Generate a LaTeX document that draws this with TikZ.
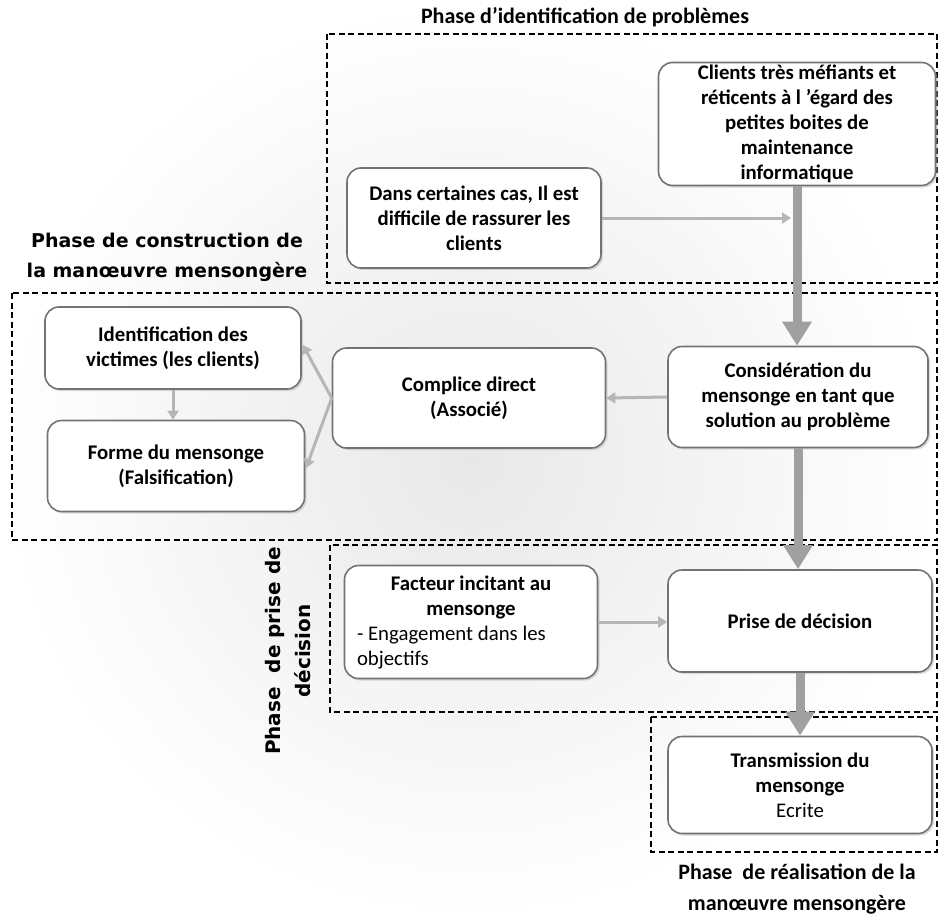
\documentclass[tikz,border=0pt]{standalone}
\usepackage{fontspec}
\setmainfont{Carlito}
\newfontfamily\titrefont{DejaVu Sans}
\usetikzlibrary{arrows.meta,positioning,shadows}
\definecolor{bxedge}{RGB}{115,115,115}
\definecolor{bxthick}{RGB}{160,160,160}
\definecolor{bxthin}{RGB}{182,182,182}
\tikzset{
  boite/.style={
    draw=bxedge, line width=1.6pt, rounded corners=14pt, fill=white,
    align=center, inner xsep=6pt, inner ysep=0pt,
    font=\fontsize{20.8}{25}\selectfont\bfseries,
    drop shadow={shadow xshift=2pt, shadow yshift=-2pt, fill=black!30, opacity=.45}
  },
  grp/.style={draw=black, line width=1.4pt, dash pattern=on 6pt off 3.5pt},
  arr/.style={-{Triangle[length=9pt,width=11pt]}, draw=bxthin, line width=3pt},
  gros/.style={-{Triangle[length=24pt,width=28pt]}, draw=bxthick, line width=9pt},
  titre/.style={font=\fontsize{22}{31}\selectfont\bfseries, align=center},
  titreb/.style={font=\titrefont\fontsize{19}{30}\selectfont\bfseries, align=center}
}
\begin{document}
\begin{tikzpicture}[x=1pt, y=-1pt]
  \useasboundingbox (0,0) rectangle (941,920);
  \shade[inner color=black!9, outer color=white] (0,0) rectangle (941,920);
  % phases
  \draw[grp] (327,34) rectangle (937,283);
  \draw[grp] (12,293) rectangle (937,540);
  \draw[grp] (330,545) rectangle (937,712);
  \draw[grp] (651,717) rectangle (937,852);
  \node[titre] (t1) at (585,17) {Phase d’identification de problèmes};
  \node[titreb] (t2) at (167,257) {Phase de construction de\\la manœuvre mensongère};
  \node[titreb, font=\titrefont\fontsize{20}{30}\selectfont\bfseries, rotate=90] (t3) at (288,651)
    {Phase \ de prise de\\décision};
  \node[titre] (t4) at (797,889) {Phase \ de réalisation de la\\manœuvre mensongère};
  % boxes
  \node[boite, minimum width=277pt, minimum height=123pt] (clients) at (797,124)
    {Clients très méfiants et\\réticents à l ’égard des\\petites boites de\\maintenance\\informatique};
  \node[boite, minimum width=254pt, minimum height=100pt] (dans) at (474,218)
    {Dans certaines cas, Il est\\difficile de rassurer les\\clients};
  \node[boite, minimum width=256pt, minimum height=82pt] (ident) at (173,348)
    {Identification des\\victimes (les clients)};
  \node[boite, minimum width=257pt, minimum height=91pt] (forme) at (176,466)
    {Forme du mensonge\\(Falsification)};
  \node[boite, minimum width=273pt, minimum height=100pt] (compl) at (469,398)
    {Complice direct\\(Associé)};
  \node[boite, minimum width=260pt, minimum height=101pt] (consid) at (798,397)
    {Considération du\\mensonge en tant que\\solution au problème};
  \node[boite, minimum width=253pt, minimum height=113pt] (facteur) at (471,622)
    {Facteur incitant au\\mensonge\\
     \makebox[228pt][l]{\mdseries - Engagement dans les}\\
     \makebox[228pt][l]{\mdseries objectifs}};
  \node[boite, minimum width=264pt, minimum height=102pt] (prise) at (800,621)
    {Prise de décision};
  \node[boite, minimum width=264pt, minimum height=97pt] (trans) at (800,785)
    {Transmission du\\mensonge\\\mdseries Ecrite};
  % connectors
  \draw[gros] (clients.south) -- (clients.south |- consid.north);
  \draw[arr] (dans.east) -- ([xshift=-6pt]dans.east -| clients.south);
  \draw[arr] (consid.west) -- (compl.east);
  \draw[arr, shorten >=2pt] (compl.west) -- ([yshift=5pt]ident.east);
  \draw[arr, shorten >=2pt] (compl.west) -- ([yshift=-4pt]forme.east);
  \draw[arr] (ident.south) -- (ident.south |- forme.north);
  \draw[gros] (consid.south) -- (consid.south |- prise.north);
  \draw[arr] (facteur.east) -- (facteur.east -| prise.west);
  \draw[gros] (prise.south) -- (trans.north);
\end{tikzpicture}
\end{document}
